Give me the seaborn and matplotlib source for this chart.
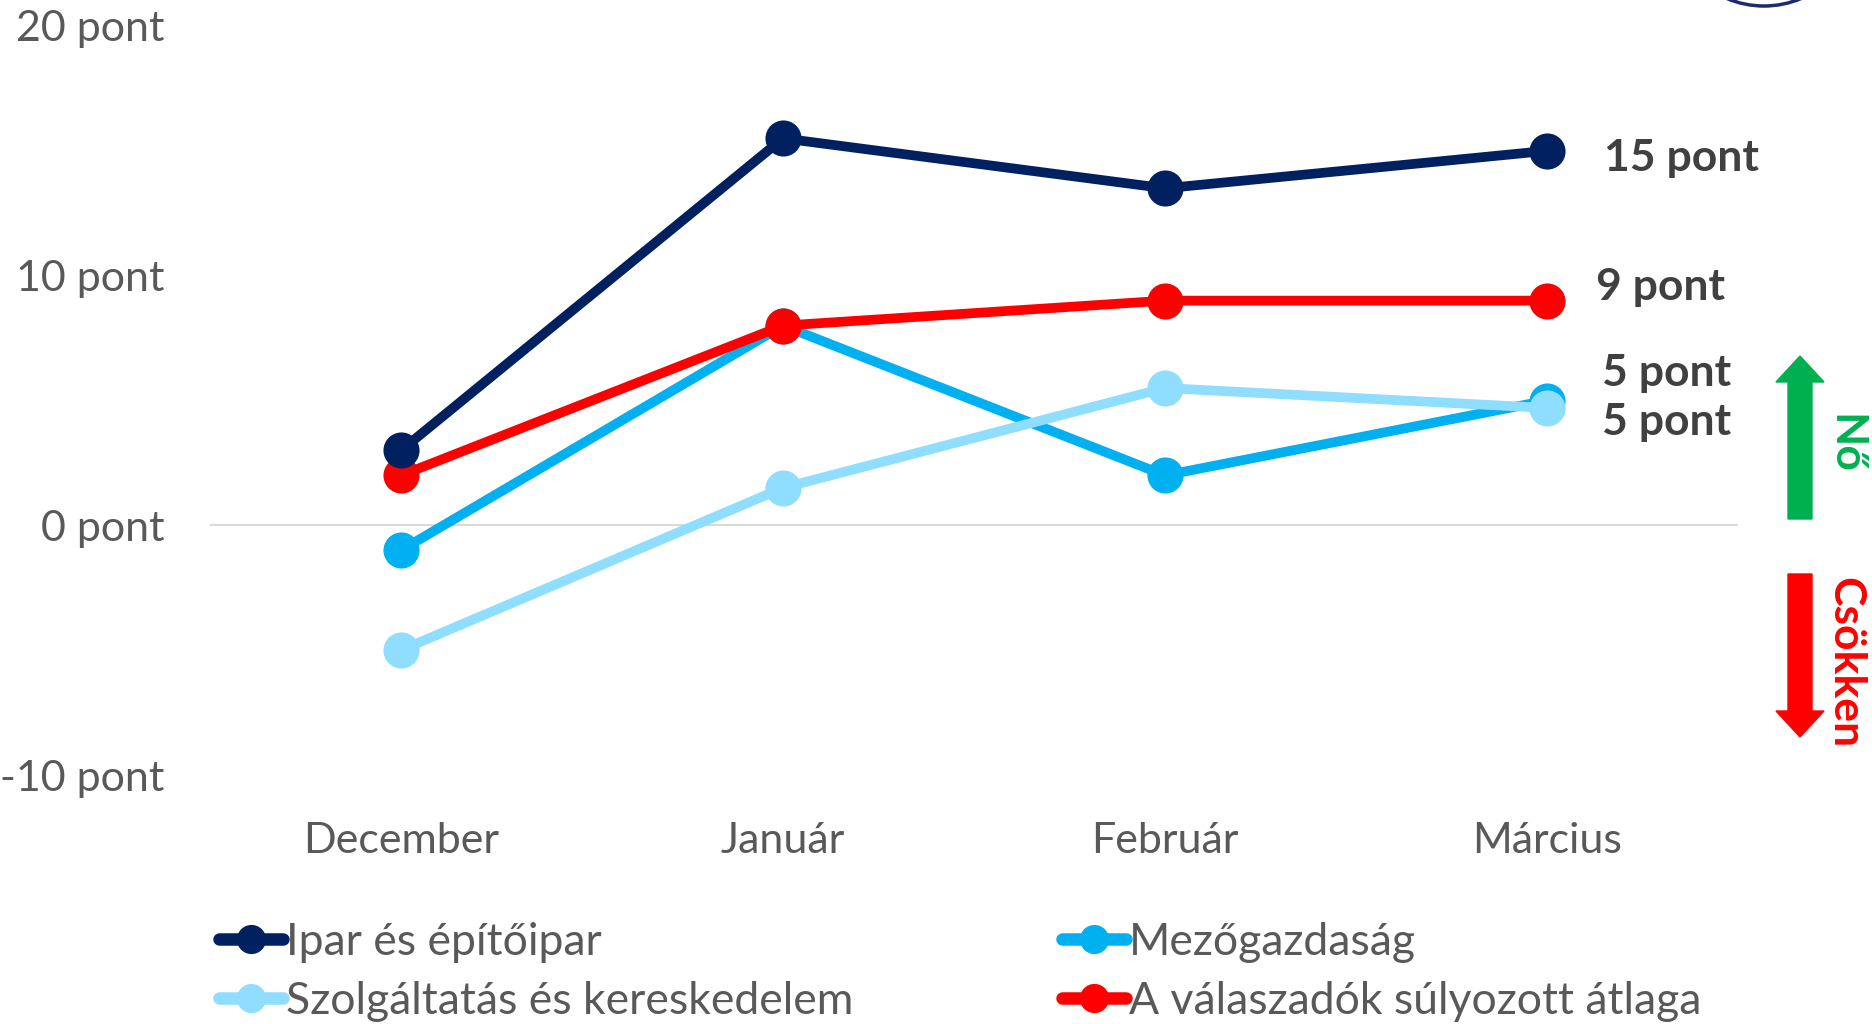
import matplotlib
matplotlib.use("Agg")
import matplotlib.pyplot as plt
import seaborn as sns
import pandas as pd
from matplotlib.lines import Line2D
from matplotlib.patches import FancyArrow, Ellipse

months = ["December", "Január", "Február", "Március"]
ipar = [3, 15.5, 13.5, 15]
mezo = [-1, 8, 2, 5]
szolg = [-5, 1.5, 5.5, 4.7]
atlag = [2, 8, 9, 9]
series_names = ["Ipar és építőipar", "Mezőgazdaság",
                "Szolgáltatás és kereskedelem", "A válaszadók súlyozott átlaga"]
colors = ["#002060", "#00B0F0", "#8FDDFF", "#FF0000"]
end_labels = ["15 pont", "9 pont", "5 pont", "5 pont"]
yticks = [-10, 0, 10, 20]

rows = []
for name, vals in zip(series_names, [ipar, mezo, szolg, atlag]):
    for i, v in enumerate(vals):
        rows.append({"x": i, "month": months[i], "value": v, "series": name})
df = pd.DataFrame(rows)

sns.set_theme(style="white")
plt.rcParams['font.family'] = ['Lato', 'DejaVu Sans']

W, H = 1872, 1024
fig = plt.figure(figsize=(18.72, 10.24), dpi=100)
ax = fig.add_axes([210/W, 1-775/H, 1528/W, 749/H])

ax.axhline(0, color="#D9D9D9", lw=1.5, zorder=0)
pal = dict(zip(series_names, colors))
for name in ["Mezőgazdaság", "Szolgáltatás és kereskedelem", "A válaszadók súlyozott átlaga", "Ipar és építőipar"]:
    sub = df[df.series == name]
    sns.lineplot(data=sub, x="x", y="value", color=pal[name], lw=7, marker="o",
                 markersize=26, markeredgewidth=0, ax=ax, legend=False)

ax.set_xlim(-0.5, 3.5)
ax.set_ylim(-10, 20)
ax.set_xticks(range(4))
ax.set_xticklabels(months)
ax.set_yticks(yticks)
ax.set_yticklabels([f"{t} pont" for t in yticks])
ax.tick_params(axis="both", labelsize=31, colors="#595959", length=0)
ax.tick_params(axis="x", pad=34)
ax.tick_params(axis="y", pad=33)
for s in ax.spines.values():
    s.set_visible(False)
ax.set_xlabel("")
ax.set_ylabel("")
ax.patch.set_alpha(0)

# end labels
lab_pos = [(1604, 158), (1596, 287), (1602, 373), (1602, 422)]
for txt, (px, py) in zip(end_labels, lab_pos):
    fig.text(px/W, 1-py/H, txt, fontsize=32, fontweight="bold", color="#404040",
             ha="left", va="center")

# arrows
fig.patches.append(FancyArrow(1800/W, 1-519/H, 0, (519-356)/H, width=24/W, head_width=48/W,
                              head_length=26/H, length_includes_head=True, color="#00B050",
                              transform=fig.transFigure))
fig.patches.append(FancyArrow(1800/W, 1-574/H, 0, -(737-574)/H, width=24/W, head_width=48/W,
                              head_length=26/H, length_includes_head=True, color="#FF0000",
                              transform=fig.transFigure))
fig.text(1845/W, 1-444/H, "Nő", rotation=-90, fontsize=32, fontweight="bold", color="#00B050",
         ha="center", va="center")
fig.text(1845/W, 1-663/H, "Csökken", rotation=-90, fontsize=32, fontweight="bold", color="#FF0000",
         ha="center", va="center")

# logo fragment
fig.patches.append(Ellipse((1764/W, 1+90/H), 2*96/W, 2*96/H, fill=False, ec="#1F2A6B", lw=2.5,
                           transform=fig.transFigure))

order = [0, 2, 1, 3]
handles = [Line2D([0], [0], color=colors[i], lw=9, marker="o", markersize=21, markeredgewidth=0,
                  solid_capstyle="round")
           for i in order]
labels = [series_names[i] for i in order]
leg = fig.legend(handles, labels, loc="upper left", bbox_to_anchor=(179/W, 1-882/H),
                 ncol=2, frameon=False, fontsize=32, handlelength=1.45, handletextpad=0.05,
                 columnspacing=4.7, labelspacing=0.4, labelcolor="#595959")

fig.savefig("out.png", dpi=100)
